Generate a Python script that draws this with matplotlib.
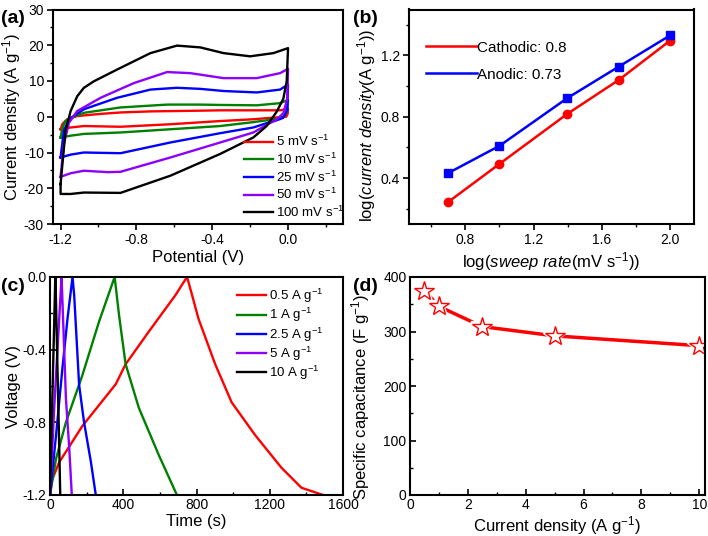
import matplotlib
matplotlib.use("Agg")
import matplotlib.pyplot as plt
from matplotlib.ticker import MultipleLocator

plt.rcParams['font.family'] = ['Liberation Sans', 'DejaVu Sans']
plt.rcParams['mathtext.fontset'] = 'custom'
plt.rcParams['mathtext.rm'] = 'Liberation Sans'
plt.rcParams['mathtext.it'] = 'Liberation Sans:italic'
plt.rcParams['axes.unicode_minus'] = False

# (a) CV loops, potential (V) and current density (A/g)
cv_labels = ['5 mV s$^{-1}$', '10 mV s$^{-1}$', '25 mV s$^{-1}$', '50 mV s$^{-1}$', '100 mV s$^{-1}$']
cv_colors = ['#ff0000', '#008000', '#0000ff', '#8b00ff', '#000000']

v5 = [-1.2, -1.19, -1.165, -1.112, -0.989, -0.884, -0.726, -0.463, -0.358, -0.165, -0.042, 0.0,
      -0.002, -0.01, -0.06, -0.113, -0.183, -0.358, -0.621, -0.884, -1.077, -1.147, -1.2]
i5 = [-3.5, -2.0, -0.7, 0.2, 0.8, 1.2, 1.5, 1.7, 1.8, 1.8, 1.8, 2.2,
      0.8, 0.0, -0.2, -0.4, -0.7, -1.2, -2.1, -2.8, -2.6, -3.0, -3.5]
v10 = [-1.2, -1.19, -1.174, -1.147, -1.077, -0.884, -0.638, -0.463, -0.358, -0.165, -0.042, 0.0,
       -0.004, -0.025, -0.06, -0.113, -0.183, -0.358, -0.621, -0.884, -1.077, -1.147, -1.2]
i10 = [-5.8, -3.1, -1.2, -0.3, 1.1, 2.6, 3.4, 3.4, 3.3, 3.2, 3.8, 4.7,
       1.5, 0.0, -0.6, -1.0, -1.5, -2.6, -3.5, -4.4, -4.8, -5.3, -5.8]
v25 = [-1.2, -1.183, -1.156, -1.077, -0.902, -0.726, -0.586, -0.463, -0.34, -0.165, -0.042, 0.0,
       -0.004, -0.025, -0.06, -0.113, -0.183, -0.358, -0.621, -0.884, -1.077, -1.147, -1.2]
i25 = [-11.4, -4.0, -0.7, 2.1, 5.3, 7.6, 8.1, 7.8, 7.2, 6.8, 7.6, 9.0,
       2.0, -0.3, -1.0, -1.8, -3.0, -4.6, -7.2, -10.2, -10.0, -10.6, -11.4]
v50 = [-1.2, -1.183, -1.156, -1.112, -0.989, -0.814, -0.638, -0.516, -0.34, -0.165, -0.042, 0.0,
       -0.004, -0.025, -0.06, -0.113, -0.183, -0.358, -0.621, -0.884, -0.95, -1.077, -1.147, -1.2]
i50 = [-16.8, -7.7, -1.7, 1.6, 5.3, 9.4, 12.5, 12.2, 10.8, 10.8, 12.2, 13.4,
       5.0, 1.0, -0.8, -2.3, -4.4, -7.2, -11.4, -15.4, -15.5, -15.1, -15.8, -16.8]
v100 = [-1.2, -1.174, -1.147, -1.112, -1.077, -1.025, -0.902, -0.726, -0.586, -0.463, -0.34, -0.2, -0.077, 0.0,
        -0.007, -0.025, -0.06, -0.113, -0.183, -0.358, -0.621, -0.884, -1.077, -1.147, -1.2, -1.2]
i100 = [-18.8, -4.0, 1.6, 5.75, 8.1, 9.9, 13.2, 17.8, 19.9, 19.4, 17.8, 16.9, 17.8, 19.2,
        9.9, 5.0, 1.4, -2.6, -5.8, -10.4, -16.5, -21.3, -21.2, -21.6, -21.6, -18.8]
cv_v = [v5, v10, v25, v50, v100]
cv_i = [i5, i10, i25, i50, i100]

# (b) log current vs log sweep rate
log_rate = [0.699, 1.0, 1.398, 1.699, 2.0]
log_cath = [0.243, 0.492, 0.819, 1.04, 1.297]
log_anod = [0.432, 0.61, 0.922, 1.127, 1.331]

# (c) GCD curves, time (s) and voltage (V)
gcd_labels = ['0.5 A g$^{-1}$', '1 A g$^{-1}$', '2.5 A g$^{-1}$', '5 A g$^{-1}$', '10 A g$^{-1}$']
t05 = [0, 10, 50, 177, 359, 413, 540, 685, 748, 757, 811, 902, 992, 1120, 1264, 1373, 1491]
u05 = [-1.2, -1.12, -1.02, -0.82, -0.59, -0.48, -0.30, -0.10, 0.0, -0.03, -0.23, -0.48, -0.69, -0.87, -1.05, -1.16, -1.2]
t1 = [0, 33, 87, 177, 268, 353, 377, 413, 485, 594, 693]
u1 = [-1.2, -1.0, -0.80, -0.54, -0.245, 0.0, -0.21, -0.48, -0.72, -0.98, -1.2]
t25 = [0, 33, 68, 96, 123, 132, 159, 186, 223, 250]
u25 = [-1.2, -0.87, -0.50, -0.226, 0.0, -0.10, -0.594, -0.80, -1.016, -1.2]
t5 = [0, 23, 63, 65, 87, 105, 119]
u5 = [-1.2, -0.72, 0.0, -0.05, -0.67, -0.94, -1.2]
t10 = [0, 29, 31, 56]
u10 = [-1.2, 0.0, -0.05, -1.2]
gcd_t = [t05, t1, t25, t5, t10]
gcd_u = [u05, u1, u25, u5, u10]

# (d) specific capacitance vs current density
cur_dens = [0.5, 1, 2.5, 5, 10]
spec_cap = [375, 346, 309, 292, 274]

W, H = 708, 536
fig = plt.figure(figsize=(W / 100, H / 100), dpi=100)


def box(l, t, r, b):
    return [l / W, 1 - b / H, (r - l) / W, (b - t) / H]


ax_a = fig.add_axes(box(53, 9.5, 343, 224))
ax_b = fig.add_axes(box(409, 9.5, 694, 224))
ax_c = fig.add_axes(box(50, 277, 343, 495))
ax_d = fig.add_axes(box(410, 277, 705, 495))

for ax in (ax_a, ax_b, ax_c, ax_d):
    for s in ax.spines.values():
        s.set_linewidth(1.5)
    ax.tick_params(labelsize=10, width=1.2, length=4, pad=2.5)
    ax.tick_params(which='minor', width=1.0, length=2.5)
ax_a.tick_params(which='both', direction='out', top=False, right=False)
ax_b.tick_params(which='both', direction='out', top=False, right=False)
ax_c.tick_params(which='both', direction='in', top=False, right=False)
ax_d.tick_params(which='both', direction='in', top=False, right=False)

lab_fs = 12

# (a)
for v, i, c, lab in zip(cv_v, cv_i, cv_colors, cv_labels):
    ax_a.plot(v, i, color=c, lw=1.7, label=lab)
ax_a.set_xlim(-1.24, 0.29)
ax_a.set_ylim(-30, 30)
ax_a.xaxis.set_minor_locator(MultipleLocator(0.2))
ax_a.yaxis.set_major_locator(MultipleLocator(10))
ax_a.yaxis.set_minor_locator(MultipleLocator(5))
ax_a.set_xticks([-1.2, -0.8, -0.4, 0.0])
ax_a.set_xticklabels(['-1.2', '-0.8', '-0.4', '0.0'])
ax_a.set_xlabel('Potential (V)', fontsize=lab_fs, labelpad=2)
ax_a.set_ylabel('Current density (A g$^{-1}$)', fontsize=lab_fs)
ax_a.yaxis.set_label_coords(-0.105, 0.5)
ax_a.legend(loc='lower left', bbox_to_anchor=(0.66, 0.02), frameon=False, fontsize=9.5,
            handlelength=2.2, handletextpad=0.2, labelspacing=0.18, borderpad=0,
            borderaxespad=0)

# (b)
ax_b.plot(log_rate, log_cath, color='#ff0000', lw=1.8, marker='o', ms=6, label='Cathodic: 0.8')
ax_b.plot(log_rate, log_anod, color='#0000ff', lw=1.8, marker='s', ms=6, label='Anodic: 0.73')
ax_b.set_xlim(0.47, 2.14)
ax_b.set_ylim(0.1, 1.5)
ax_b.xaxis.set_minor_locator(MultipleLocator(0.2))
ax_b.yaxis.set_minor_locator(MultipleLocator(0.2))
ax_b.set_xticks([0.8, 1.2, 1.6, 2.0])
ax_b.set_yticks([0.4, 0.8, 1.2])
ax_b.set_xlabel(r'log($\mathit{sweep\ rate}$(mV s$^{-1}$))', fontsize=lab_fs, labelpad=2)
ax_b.set_ylabel(r'log($\mathit{current\ density}$(A g$^{-1}$))', fontsize=lab_fs)
ax_b.yaxis.set_label_coords(-0.11, 0.46)
leg = ax_b.legend(loc='upper left', bbox_to_anchor=(0.06, 0.855), frameon=False, fontsize=11,
                  handlelength=3.3, handletextpad=0.05, labelspacing=0.85, borderpad=0,
                  borderaxespad=0)
for h in leg.legend_handles:
    h.set_marker('')

# (c)
for t, u, c, lab in zip(gcd_t, gcd_u, cv_colors, gcd_labels):
    ax_c.plot(t, u, color=c, lw=1.7, label=lab)
ax_c.set_xlim(0, 1600)
ax_c.set_ylim(-1.2, 0.0)
ax_c.xaxis.set_major_locator(MultipleLocator(400))
ax_c.xaxis.set_minor_locator(MultipleLocator(200))
ax_c.set_yticks([-1.2, -0.8, -0.4, 0.0])
ax_c.set_yticklabels(['-1.2', '-0.8', '-0.4', '0.0'])
ax_c.yaxis.set_minor_locator(MultipleLocator(0.2))
ax_c.set_xlabel('Time (s)', fontsize=lab_fs, labelpad=1)
ax_c.set_ylabel('Voltage (V)', fontsize=lab_fs)
ax_c.yaxis.set_label_coords(-0.098, 0.5)
ax_c.legend(loc='upper left', bbox_to_anchor=(0.638, 0.955), frameon=False, fontsize=9.5,
            handlelength=2.2, handletextpad=0.2, labelspacing=0.08, borderpad=0,
            borderaxespad=0)

# (d)
ax_d.plot(cur_dens, spec_cap, color='#ff0000', lw=2.5)
ax_d.plot(cur_dens, spec_cap, ls='none', marker='*', ms=17, mfc='white', mec='white', mew=3)
ax_d.plot(cur_dens, spec_cap, ls='none', marker='*', ms=15, mfc='white', mec='#ff0000', mew=1.0)
ax_d.set_xlim(0, 10.2)
ax_d.set_ylim(0, 400)
ax_d.xaxis.set_major_locator(MultipleLocator(2))
ax_d.xaxis.set_minor_locator(MultipleLocator(1))
ax_d.yaxis.set_major_locator(MultipleLocator(100))
ax_d.yaxis.set_minor_locator(MultipleLocator(50))
ax_d.set_xlabel('Current density (A g$^{-1}$)', fontsize=lab_fs, labelpad=1)
ax_d.set_ylabel('Specific capacitance (F g$^{-1}$)', fontsize=lab_fs)
ax_d.yaxis.set_label_coords(-0.128, 0.45)

# panel letters
fig.text(1 / W, 1 - 23 / H, '(a)', fontsize=14, fontweight='bold')
fig.text(353 / W, 1 - 23 / H, '(b)', fontsize=14, fontweight='bold')
fig.text(1 / W, 1 - 291 / H, '(c)', fontsize=14, fontweight='bold')
fig.text(353 / W, 1 - 291 / H, '(d)', fontsize=14, fontweight='bold')

fig.savefig('out.png', dpi=100)
